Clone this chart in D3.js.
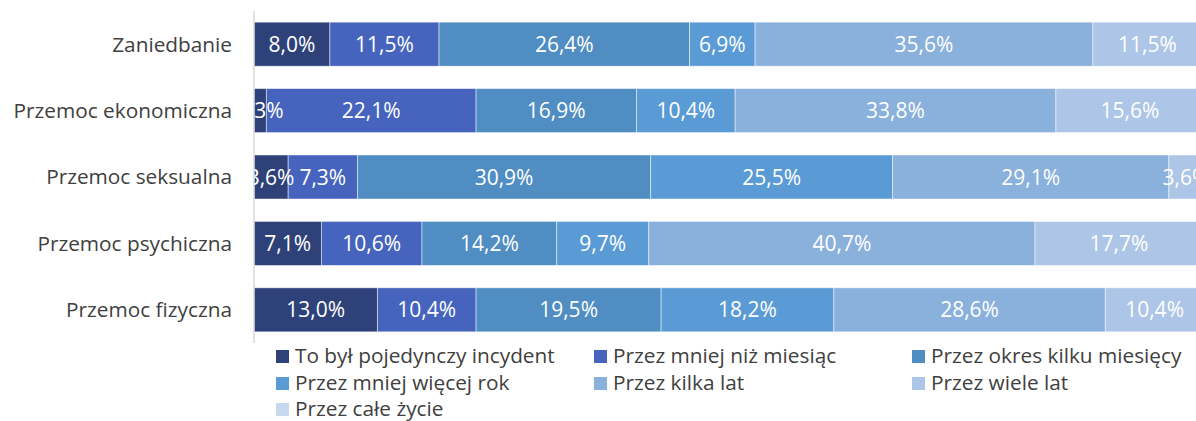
<!DOCTYPE html>
<html>
<head>
<meta charset="utf-8">
<script src="https://cdn.jsdelivr.net/npm/d3@7"></script>
<style>
  body { margin: 0; background: #fff; }
  svg { display: block; font-family: "Open Sans", "Liberation Sans", Arial, sans-serif; }
</style>
</head>
<body>
<div id="chart"></div>
<script>
// categories, top to bottom
var categories = ["Zaniedbanie", "Przemoc ekonomiczna", "Przemoc seksualna", "Przemoc psychiczna", "Przemoc fizyczna"];
var seriesNames = ["To był pojedynczy incydent", "Przez mniej niż miesiąc", "Przez okres kilku miesięcy",
    "Przez mniej więcej rok", "Przez kilka lat", "Przez wiele lat", "Przez całe życie"];
// values per series, in category order (%)
var incydent = [8.0, 1.3, 3.6, 7.1, 13.0];
var miesiac = [11.5, 22.1, 7.3, 10.6, 10.4];
var kilkaMiesiecy = [26.4, 16.9, 30.9, 14.2, 19.5];
var rok = [6.9, 10.4, 25.5, 9.7, 18.2];
var kilkaLat = [35.6, 33.8, 29.1, 40.7, 28.6];
var wieleLat = [11.5, 15.6, 3.6, 17.7, 10.4];
var caleZycie = [0, 0, 0, 0, 0];
var colors = ["#2E4279", "#4664BE", "#4F8DC3", "#5A9BD6", "#8AB0DC", "#ADC5E6", "#C6D7EE"];

var allSeries = [incydent, miesiac, kilkaMiesiecy, rok, kilkaLat, wieleLat, caleZycie];

var W = 1196, H = 421;
var svg = d3.select("#chart").append("svg").attr("width", W).attr("height", H);

var x = d3.scaleLinear().domain([0, 100]).range([254, 1203]);
var y = d3.scaleBand().domain(categories).range([11, 343]).paddingInner(0.337).paddingOuter(0.168);

// build stack table
var rows = categories.map(function(c, i) {
    var r = {cat: c};
    seriesNames.forEach(function(s, j) { r[s] = allSeries[j][i]; });
    return r;
});
var stacked = d3.stack().keys(seriesNames)(rows);

svg.append("defs").append("clipPath").attr("id", "plot")
    .append("rect").attr("x", 254).attr("y", 0).attr("width", 1000).attr("height", H);

var plot = svg.append("g").attr("clip-path", "url(#plot)");

// bars
plot.selectAll("g.layer")
    .data(stacked)
    .enter().append("g")
    .attr("class", "layer")
    .attr("fill", function(d, i) { return colors[i]; })
    .selectAll("rect")
    .data(function(d) { return d; })
    .enter().append("rect")
    .attr("x", function(d) { return x(d[0]); })
    .attr("y", function(d) { return y(d.data.cat); })
    .attr("width", function(d) { return x(d[1]) - x(d[0]); })
    .attr("height", y.bandwidth())
    .attr("stroke", "#fff")
    .attr("stroke-opacity", 0.6)
    .attr("stroke-width", 0.8);

// data labels, on top of all bars
plot.selectAll("g.labels")
    .data(stacked)
    .enter().append("g")
    .attr("class", "labels")
    .selectAll("text")
    .data(function(d) { return d.filter(function(p) { return p[1] - p[0] > 0; }); })
    .enter().append("text")
    .attr("x", function(d) { return (x(d[0]) + x(d[1])) / 2; })
    .attr("y", function(d) { return y(d.data.cat) + y.bandwidth() / 2; })
    .attr("dy", "0.36em")
    .attr("text-anchor", "middle")
    .attr("fill", "#fff")
    .style("font-size", "21px")
    .text(function(d) { return d3.format(".1f")(d[1] - d[0]).replace(".", ",") + "%"; });

// vertical axis line
svg.append("line")
    .attr("x1", 254).attr("x2", 254)
    .attr("y1", 11).attr("y2", 343)
    .attr("stroke", "#d9d9d9").attr("stroke-width", 1.5);

// category labels
svg.selectAll("text.cat")
    .data(categories)
    .enter().append("text")
    .attr("class", "cat")
    .attr("x", 232)
    .attr("y", function(d) { return y(d) + y.bandwidth() / 2; })
    .attr("dy", "0.36em")
    .attr("text-anchor", "end")
    .attr("fill", "#404040")
    .style("font-size", "20.8px")
    .text(function(d) { return d; });

// legend
var legendX = [276, 594, 912], legendY = [356, 383, 409];
var leg = svg.selectAll("g.leg")
    .data(seriesNames)
    .enter().append("g")
    .attr("class", "leg")
    .attr("transform", function(d, i) {
        return "translate(" + legendX[i % 3] + "," + legendY[Math.floor(i / 3)] + ")";
    });
leg.append("rect")
    .attr("x", 0).attr("y", -6).attr("width", 13).attr("height", 13)
    .attr("fill", function(d, i) { return colors[i]; });
leg.append("text")
    .attr("x", 19).attr("y", 0).attr("dy", "0.34em")
    .attr("fill", "#404040")
    .style("font-size", "20.8px")
    .text(function(d) { return d; });
</script>
</body>
</html>
